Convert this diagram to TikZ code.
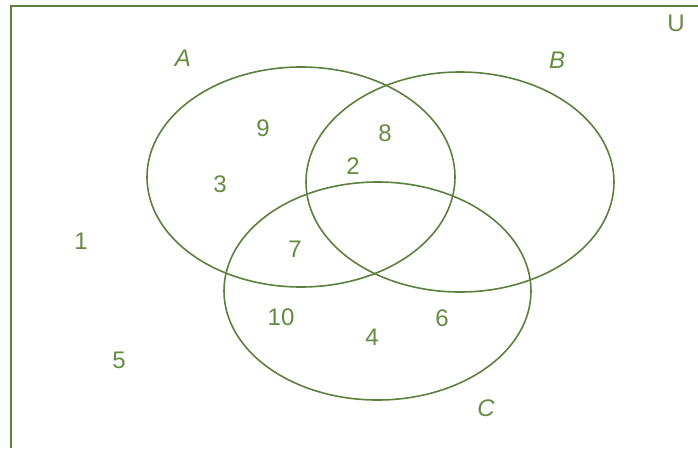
\documentclass[tikz,border=0pt]{standalone}
\usepackage{fontspec}
\setmainfont{Liberation Sans}
\definecolor{vline}{RGB}{92,128,62}
\definecolor{vtext}{RGB}{100,140,65}
\begin{document}
\begin{tikzpicture}[x=1pt,y=-1pt,
  setline/.style={draw=vline,line width=1.6pt},
  num/.style={text=vtext,font=\fontsize{24}{28}\selectfont,inner sep=0pt},
  setlabel/.style={text=vtext,font=\fontsize{24}{28}\selectfont\itshape,inner sep=0pt}]
\useasboundingbox (0,0) rectangle (698,448);
\fill[white] (0,0) rectangle (698,448);
\coordinate (bl) at (11,448);
\coordinate (tl) at (11,6);
\coordinate (tr) at (698,6);
\draw[draw=vline,line width=2pt] (bl) -- (tl) -- (tr);
\draw[setline] (301,177) ellipse [x radius=154, y radius=110];
\draw[setline] (460,182) ellipse [x radius=154, y radius=110];
\draw[setline] (377.5,291) ellipse [x radius=153.5, y radius=109];
\node[setlabel] (lA) at (183,58) {A};
\node[setlabel] (lB) at (557,60) {B};
\node[setlabel] (lC) at (486,408) {C};
\node[num] (lU) at (676,23) {U};
\node[num] (n9) at (263,128) {9};
\node[num] (n8) at (385,133) {8};
\node[num] (n2) at (353,166) {2};
\node[num] (n3) at (220,184) {3};
\node[num] (n7) at (295,249) {7};
\node[num] (n1) at (81,241) {1};
\node[num] (n10) at (281,317) {10};
\node[num] (n4) at (372,337) {4};
\node[num] (n6) at (442,318) {6};
\node[num] (n5) at (119,360) {5};
\end{tikzpicture}
\end{document}
